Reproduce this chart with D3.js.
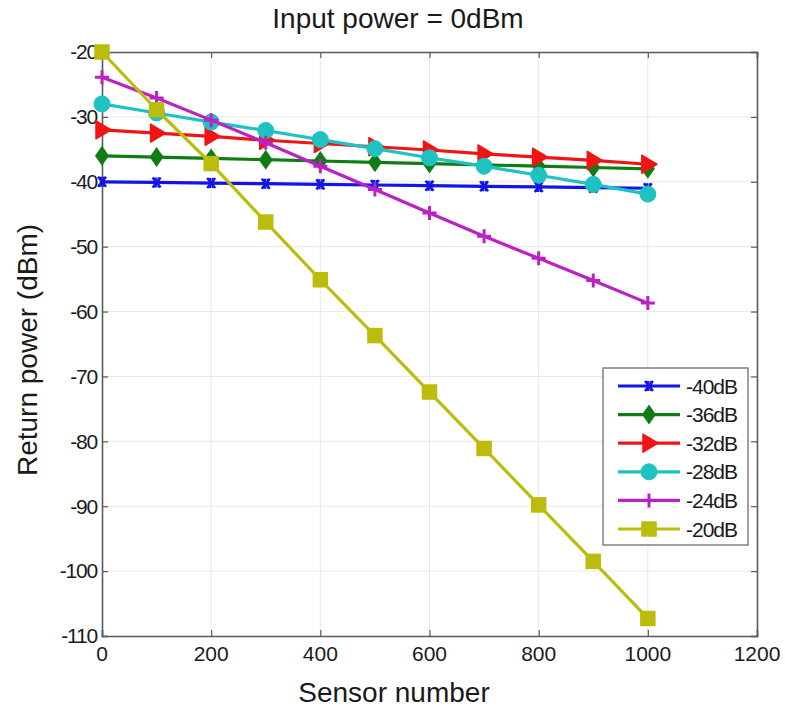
<!DOCTYPE html>
<html>
<head>
<meta charset="utf-8">
<script src="https://cdn.jsdelivr.net/npm/d3@7"></script>
<style>
  body { margin: 0; background: #fff; }
  text { font-family: "Liberation Sans", Arial, sans-serif; fill: #1a1a1a; }
</style>
</head>
<body>
<svg id="chart" width="785" height="711"></svg>
<script>
// sensor index along x
const sensors = [0, 100, 200, 300, 400, 500, 600, 700, 800, 900, 1000];

// return power (dBm) per reflectivity
const r40 = [-40.0, -40.1, -40.2, -40.3, -40.4, -40.5, -40.6, -40.7, -40.8, -40.9, -41.0];
const r36 = [-36.0, -36.2, -36.4, -36.6, -36.8, -37.0, -37.2, -37.4, -37.6, -37.8, -38.0];
const r32 = [-32.0, -32.5, -33.0, -33.6, -34.1, -34.6, -35.1, -35.7, -36.2, -36.7, -37.3];
const r28 = [-28.0, -29.4, -30.8, -32.1, -33.5, -34.9, -36.3, -37.6, -39.0, -40.4, -41.9];
const r24 = [-23.9, -27.1, -30.5, -34.0, -37.6, -41.2, -44.8, -48.4, -51.8, -55.2, -58.7];
const r20 = [-20.0, -28.9, -37.2, -46.2, -55.1, -63.7, -72.4, -81.1, -89.8, -98.5, -107.3];

const seriesNames = ['-40dB', '-36dB', '-32dB', '-28dB', '-24dB', '-20dB'];
const seriesValues = [r40, r36, r32, r28, r24, r20];

const xTicks = [0, 200, 400, 600, 800, 1000, 1200];
const yTicks = [-110, -100, -90, -80, -70, -60, -50, -40, -30, -20];

const styles = [
  { color: '#1414e6', marker: 'x' },
  { color: '#0f7d14', marker: 'diamond' },
  { color: '#f01414', marker: 'triangle' },
  { color: '#1fc2c2', marker: 'circle' },
  { color: '#bb22c4', marker: 'plus' },
  { color: '#bcbc0c', marker: 'square' }
];

const svg = d3.select('#chart');
const m = { left: 102, right: 757, top: 52, bottom: 636 };

const x = d3.scaleLinear().domain([0, 1200]).range([m.left, m.right]);
const y = d3.scaleLinear().domain([-110, -20]).range([m.bottom, m.top]);

// grid
svg.append('g').selectAll('line').data(xTicks.slice(1, -1)).join('line')
  .attr('x1', d => x(d)).attr('x2', d => x(d))
  .attr('y1', m.top).attr('y2', m.bottom)
  .attr('stroke', '#e8e8e8').attr('stroke-width', 1);
svg.append('g').selectAll('line').data(yTicks.slice(1, -1)).join('line')
  .attr('y1', d => y(d)).attr('y2', d => y(d))
  .attr('x1', m.left).attr('x2', m.right)
  .attr('stroke', '#e8e8e8').attr('stroke-width', 1);

// axes with inward ticks, labels drawn separately
const tickLen = 6;
const axB = svg.append('g').attr('transform', `translate(0,${m.bottom})`)
  .call(d3.axisTop(x).tickValues(xTicks).tickSize(tickLen).tickFormat(''));
const axT = svg.append('g').attr('transform', `translate(0,${m.top})`)
  .call(d3.axisBottom(x).tickValues(xTicks).tickSize(tickLen).tickFormat(''));
const axL = svg.append('g').attr('transform', `translate(${m.left},0)`)
  .call(d3.axisRight(y).tickValues(yTicks).tickSize(tickLen).tickFormat(''));
const axR = svg.append('g').attr('transform', `translate(${m.right},0)`)
  .call(d3.axisLeft(y).tickValues(yTicks).tickSize(tickLen).tickFormat(''));
[axB, axT, axL, axR].forEach(a => {
  a.selectAll('path').attr('stroke', '#5a5a5a').attr('stroke-width', 1.6);
  a.selectAll('line').attr('stroke', '#5a5a5a').attr('stroke-width', 1.2);
});

svg.append('g').selectAll('text').data(xTicks).join('text')
  .attr('x', d => x(d)).attr('y', m.bottom + 25)
  .attr('text-anchor', 'middle').style('font-size', '21px')
  .text(d => d);
svg.append('g').selectAll('text').data(yTicks).join('text')
  .attr('x', m.left - 5).attr('y', d => y(d)).attr('dy', '0.35em')
  .attr('text-anchor', 'end').style('font-size', '21px').style('letter-spacing', '-1.2px')
  .text(d => d);

// titles
svg.append('text').attr('x', 398).attr('y', 28).attr('text-anchor', 'middle')
  .style('font-size', '28px').text('Input power = 0dBm');
svg.append('text').attr('x', 394).attr('y', 702).attr('text-anchor', 'middle')
  .style('font-size', '28px').text('Sensor number');
svg.append('text').attr('transform', 'translate(37,350) rotate(-90)')
  .attr('text-anchor', 'middle').style('font-size', '28px').text('Return power (dBm)');

// marker drawing
function drawMarker(g, kind, color) {
  if (kind === 'circle') {
    g.append('circle').attr('r', 8).attr('fill', color).attr('stroke', color);
  } else if (kind === 'square') {
    g.append('rect').attr('x', -7).attr('y', -7).attr('width', 14).attr('height', 14)
      .attr('fill', color).attr('stroke', color).attr('stroke-width', 1.5);
  } else if (kind === 'diamond') {
    g.append('path').attr('d', 'M0,-10L7,0L0,10L-7,0Z').attr('fill', color);
  } else if (kind === 'triangle') {
    g.append('path').attr('d', 'M9,0L-6,-9L-6,9Z').attr('fill', color)
      .attr('stroke', color).attr('stroke-width', 1.5).attr('stroke-linejoin', 'round');
  } else if (kind === 'plus') {
    g.append('path').attr('d', 'M-7,0H7M0,-7V7').attr('stroke', color).attr('stroke-width', 3);
  } else if (kind === 'x') {
    g.append('path').attr('d', 'M-4,-5L4,5M4,-5L-4,5M-1,-5V5M2,-5V5').attr('stroke', color).attr('stroke-width', 2.5);
  }
}

const line = d3.line().x(d => x(d[0])).y(d => y(d[1]));

seriesValues.forEach((vals, i) => {
  const pts = sensors.map((s, j) => [s, vals[j]]);
  const st = styles[i];
  const g = svg.append('g');
  g.append('path').datum(pts).attr('d', line)
    .attr('fill', 'none').attr('stroke', st.color).attr('stroke-width', 3.2)
    .attr('stroke-linejoin', 'round');
  g.selectAll('g.mk').data(pts).join('g').attr('class', 'mk')
    .attr('transform', d => `translate(${x(d[0])},${y(d[1])})`)
    .each(function () { drawMarker(d3.select(this), st.marker, st.color); });
});

// legend
const lg = svg.append('g');
lg.append('rect').attr('x', 603).attr('y', 368).attr('width', 145).attr('height', 177)
  .attr('fill', '#fff').attr('stroke', '#6e6e6e').attr('stroke-width', 1.3);
const rows = lg.selectAll('g.row').data(seriesNames).join('g').attr('class', 'row')
  .attr('transform', (d, i) => `translate(0,${386 + i * 28.6})`);
rows.append('line').attr('x1', 618).attr('x2', 680)
  .attr('stroke', (d, i) => styles[i].color).attr('stroke-width', 3.2);
rows.append('g').attr('transform', 'translate(649,0)')
  .each(function (d, i) { drawMarker(d3.select(this), styles[i].marker, styles[i].color); });
rows.append('text').attr('x', 686).attr('dy', '0.36em')
  .style('font-size', '21px').style('letter-spacing', '-1px').text(d => d);
</script>
</body>
</html>
